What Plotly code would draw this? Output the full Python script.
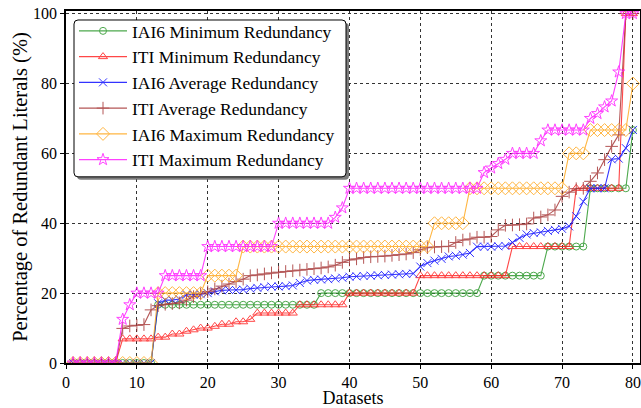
import plotly.graph_objects as go

x = list(range(1, 81))

iai6_min = [0]*12 + [16.67]*23 + [20]*23 + [25]*9 + [33.33]*6 + [50]*6 + [66.67]

iti_min = ([0]*7 + [6.9]*5 + [7.4, 7.4, 8.3, 8.3, 9.1, 9.5, 10.0, 10.0, 10.5, 11.1, 11.1, 11.8, 11.8, 12.5]
           + [14.29]*6 + [16.67]*7 + [20]*10 + [25]*13 + [33.33]*9 + [50]*7 + [100]*2)

iai6_avg = ([0]*12 + [17.1, 18.0, 18.0, 18.3, 19.5, 19.5, 19.7, 20.0, 20.5, 20.8, 20.9, 20.9, 21.0, 21.3,
            21.5, 21.7, 21.9, 21.9, 22.0, 22.2, 22.9, 23.6, 23.8, 23.9, 24.0, 24.2, 24.4, 24.7, 24.8,
            24.9, 25.0, 25.1, 25.2, 25.3, 25.4, 25.5, 25.6, 27.6, 28.6, 29.3, 29.8, 30.5, 30.7, 31.0,
            31.5, 33.3, 33.3, 33.3, 33.4, 33.5, 34.5, 35.8, 36.8, 37.2, 37.4, 37.8, 38.1, 38.4, 39.1,
            42.0, 46.2, 50.0, 50.0, 50.0, 58.3, 58.5, 61.5, 66.7])

iti_avg = ([0]*7 + [9.9, 10.6, 10.8, 11.0, 15.2, 16.4, 16.8, 17.0, 17.2, 18.0, 19.0, 19.8, 20.4, 21.2,
           22.0, 22.6, 23.3, 24.0, 25.0, 25.2, 25.5, 25.8, 26.0, 26.2, 26.4, 26.6, 26.8, 27.0, 27.2,
           27.5, 28.0, 28.8, 29.5, 29.8, 30.2, 30.4, 30.5, 30.6, 30.8, 31.0, 31.2, 31.6, 32.4, 33.0,
           33.2, 33.3, 33.4, 34.5, 35.2, 35.5, 36.0, 36.0, 36.2, 38.1, 39.4, 39.5, 39.6, 39.8, 41.5,
           41.8, 42.4, 43.8, 47.7, 48.9, 49.9, 50.0, 52.0, 54.4, 58.2, 62.0, 65.3, 100, 100])

iai6_max = [0]*12 + [20]*7 + [25]*5 + [33.33]*27 + [40]*5 + [50]*14 + [60]*3 + [66.67]*6 + [80]

iti_max = ([0]*7 + [12.5, 16.67] + [20]*4 + [25]*6 + [33.33]*10 + [40]*8 + [41.7, 44.4] + [50]*19
           + [54.5, 55.8, 57.1, 58.3, 60, 60, 60, 60, 63.6] + [66.67]*6 + [70, 71.4, 73.3, 75, 83.3, 100, 100])

series = [
    ("IAI6 Minimum Redundancy", iai6_min, "#2e9a2e", "circle-open", 7),
    ("ITI Minimum Redundancy", iti_min, "#ff2828", "triangle-up-open", 8),
    ("IAI6 Average Redundancy", iai6_avg, "#1010ff", "x-thin-open", 8),
    ("ITI Average Redundancy", iti_avg, "#a83a3a", "cross-thin-open", 9),
    ("IAI6 Maximum Redundancy", iai6_max, "#ffaa22", "diamond-open", 10),
    ("ITI Maximum Redundancy", iti_max, "#ff20ff", "star-open", 9),
]

FONT = "Liberation Serif, Times New Roman, serif"

# plot area geometry (px) used to place the legend frame
PL, PT, PW, PH = 66, 11, 574, 352.3


def px2paper(px, py):
    return (px - PL) / PW, 1 - (py - PT) / PH


def rounded_rect(x0, y0, x1, y1, r=4):
    ax0, ay0 = px2paper(x0, y0)
    ax1, ay1 = px2paper(x1, y1)
    rx, ry = r / PW, r / PH
    return (f"M{ax0 + rx},{ay0} L{ax1 - rx},{ay0} Q{ax1},{ay0} {ax1},{ay0 - ry} "
            f"L{ax1},{ay1 + ry} Q{ax1},{ay1} {ax1 - rx},{ay1} L{ax0 + rx},{ay1} "
            f"Q{ax0},{ay1} {ax0},{ay1 + ry} L{ax0},{ay0 - ry} Q{ax0},{ay0} {ax0 + rx},{ay0} Z")


fig = go.Figure()
for i, (name, ys, col, sym, sz) in enumerate(series):
    fig.add_trace(go.Scatter(
        x=x, y=ys, name=name, mode="lines+markers",
        line=dict(color=col, width=1.1),
        marker=dict(symbol=sym, size=sz, color=col, line=dict(color=col, width=1)),
        opacity=0.85,
    ))

# legend frame: shadow + rounded white box
fig.add_shape(type="path", xref="paper", yref="paper", path=rounded_rect(77, 23, 349, 180),
              fillcolor="#666666", line=dict(width=0), layer="above", opacity=0.85)
fig.add_shape(type="path", xref="paper", yref="paper", path=rounded_rect(74, 20, 346, 177),
              fillcolor="white", line=dict(color="black", width=1), layer="above")

lx, ly = px2paper(74, 13)

fig.update_layout(
    width=641, height=408,
    margin=dict(l=66, r=1, t=11, b=45, autoexpand=False),
    paper_bgcolor="white", plot_bgcolor="white",
    font=dict(family=FONT, size=16, color="black"),
    showlegend=True,
    legend=dict(x=lx, y=ly, xanchor="left", yanchor="top",
                bgcolor="rgba(0,0,0,0)", borderwidth=0,
                font=dict(family=FONT, size=17.5), itemwidth=48),
    xaxis=dict(range=[0, 81], tickmode="array", tickvals=[0, 10, 20, 30, 40, 50, 60, 70, 80],
               showgrid=True, gridcolor="#333333", griddash="dot", gridwidth=1,
               showline=True, linecolor="black", linewidth=1.5, mirror=True,
               ticks="outside", ticklen=4, tickcolor="black", zeroline=False, automargin=True,
               title=dict(text="Datasets", font=dict(size=18), standoff=3),
               tickfont=dict(size=16)),
    yaxis=dict(range=[0, 100.75], tickmode="array", tickvals=[0, 20, 40, 60, 80, 100],
               showgrid=True, gridcolor="#333333", griddash="dot", gridwidth=1,
               showline=True, linecolor="black", linewidth=1.5, mirror=True,
               ticks="outside", ticklen=4, tickcolor="black", zeroline=False, automargin=False,
               title=dict(text="Percentage of Redundant Literals (%)", font=dict(size=20.5), standoff=0),
               tickfont=dict(size=16)),
)

fig.write_html("out.html", config={"displayModeBar": False},
               post_script="document.body.style.margin='0';document.body.style.overflow='hidden';")
